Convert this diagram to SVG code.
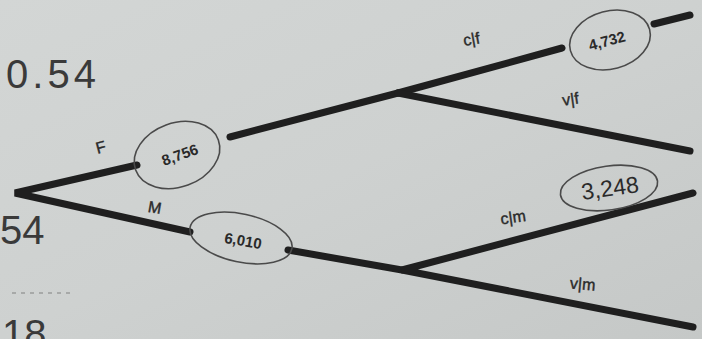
<svg xmlns="http://www.w3.org/2000/svg" width="702" height="339" viewBox="0 0 702 339">
  <defs>
    <linearGradient id="paper" x1="0" y1="0" x2="1" y2="1">
      <stop offset="0" stop-color="#d3d6d5"/>
      <stop offset="0.5" stop-color="#ced1d0"/>
      <stop offset="1" stop-color="#c5c8c7"/>
    </linearGradient>
    <style>
      .branch { stroke: #1f1f1f; stroke-width: 7; stroke-linecap: round; fill: none; }
      .ring { stroke: #4a4a4a; stroke-width: 1.6; fill: none; }
      .hand { font-family: "Liberation Sans", Arial, sans-serif; fill: #2a2a2a; }
      .num { font-size: 15px; font-weight: bold; }
      .lab { font-size: 16px; stroke: #2a2a2a; stroke-width: 0.4; }
      .big { font-size: 40px; fill: #3a3a3a; }
    </style>
  </defs>

  <rect width="702" height="339" fill="url(#paper)"/>

  <!-- margin notes -->
  <text class="hand big" x="6" y="88" textLength="90">0.54</text>
  <text class="hand big" x="0" y="244" font-size="36">54</text>
  <text class="hand big" x="2" y="348" font-size="36">18</text>
  <line x1="12" y1="293" x2="74" y2="293" stroke="#9a9c9b" stroke-width="1.5" stroke-dasharray="4 5"/>

  <!-- connectors -->
  <g id="connectors">
    <polyline class="branch" points="137,165 15,193 190,232"/>
    <line class="branch" x1="230" y1="137" x2="398" y2="93"/>
    <line class="branch" x1="398" y1="93" x2="562" y2="48"/>
    <line class="branch" x1="654" y1="24" x2="690" y2="15"/>
    <line class="branch" x1="398" y1="93" x2="690" y2="151"/>
    <line class="branch" x1="288" y1="250" x2="402" y2="270"/>
    <polyline class="branch" points="693,193 402,270 693,327"/>
  </g>

  <!-- branch labels -->
  <text class="hand lab" x="96" y="153" transform="rotate(-15 100 148)">F</text>
  <text class="hand lab" x="148" y="213" transform="rotate(10 155 208)">M</text>
  <text class="hand lab" x="463" y="44" transform="rotate(-10 475 38)">c|f</text>
  <text class="hand lab" x="562" y="104" transform="rotate(-8 575 98)">v|f</text>
  <text class="hand lab" x="500" y="222" transform="rotate(-8 518 214)">c|m</text>
  <text class="hand lab" x="570" y="290" transform="rotate(5 588 284)">v|m</text>

  <!-- nodes -->
  <g id="node-f">
    <ellipse class="ring" cx="177" cy="155" rx="44" ry="32" transform="rotate(-20 177 155)"/>
    <text class="hand num" x="180" y="160" text-anchor="middle" transform="rotate(-20 180 155)">8,756</text>
  </g>
  <g id="node-m">
    <ellipse class="ring" cx="241" cy="238" rx="52" ry="24" transform="rotate(12 241 238)"/>
    <text class="hand num" x="243" y="246" text-anchor="middle" transform="rotate(10 243 241)">6,010</text>
  </g>
  <g id="node-cf">
    <ellipse class="ring" cx="610" cy="40" rx="41" ry="29" transform="rotate(-15 610 40)"/>
    <text class="hand num" x="607" y="46" text-anchor="middle" transform="rotate(-15 607 41)">4,732</text>
  </g>
  <g id="node-cm">
    <ellipse class="ring" cx="609" cy="188" rx="49" ry="22" transform="rotate(-8 609 188)"/>
    <text class="hand" x="610" y="196" text-anchor="middle" font-size="23" transform="rotate(-8 610 188)">3,248</text>
  </g>
</svg>
